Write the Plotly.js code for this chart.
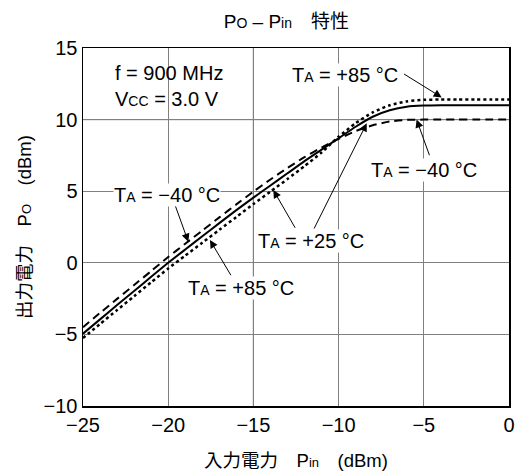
<!DOCTYPE html>
<html>
<head>
<meta charset="utf-8">
<script src="https://cdn.plot.ly/plotly-3.0.1.min.js"></script>
<style>
  html, body { margin: 0; padding: 0; background: #fff; }
  #chart { width: 516px; height: 474px; }
</style>
</head>
<body>
<div id="chart"></div>
<script>
// ---- data ----
const pin = [-25, -24, -23, -22, -21, -20, -19, -18, -17, -16, -15, -14, -13, -12, -11, -10, -9, -8, -7, -6, -5, -4, -3, -2, -1, 0];
const poTa25 = [-4.95, -3.95, -2.95, -1.97, -0.98, 0.0, 0.93, 1.85, 2.77, 3.68, 4.55, 5.4, 6.25, 7.1, 7.9, 8.7, 9.5, 10.2, 10.65, 10.9, 10.98, 11.0, 11.0, 11.0, 11.0, 11.0];
const poTaM40 = [-4.5, -3.5, -2.52, -1.55, -0.58, 0.4, 1.33, 2.25, 3.17, 4.08, 4.97, 5.82, 6.62, 7.38, 8.05, 8.65, 9.2, 9.6, 9.87, 9.98, 10.0, 10.0, 10.0, 10.0, 10.0, 10.0];
const poTa85 = [-5.25, -4.27, -3.3, -2.33, -1.36, -0.4, 0.5, 1.4, 2.3, 3.2, 4.1, 4.97, 5.85, 6.75, 7.7, 8.8, 9.75, 10.5, 11.0, 11.27, 11.38, 11.4, 11.4, 11.4, 11.4, 11.4];
const xTicks = [-25, -20, -15, -10, -5, 0];
const yTicks = [-10, -5, 0, 5, 10, 15];
const darkGridX = [-15];
const darkGridY = [10];

const SUB = s => '<span style="font-size:14px">' + s + '</span>';
const SUBT = s => '<span style="font-size:13px">' + s + '</span>';
const labelM40 = 'T' + SUB('A') + ' = \u221240 \u00B0C';
const label25 = 'T' + SUB('A') + ' = +25 \u00B0C';
const label85 = 'T' + SUB('A') + ' = +85 \u00B0C';
const condText = 'f = 900 MHz<br>V' + SUB('CC') + ' = 3.0 V';
const titleText = 'P' + SUB('O') + ' \u2013 P' + SUB('in') + '\u3000\u7279\u6027';
const xTitle = '\u5165\u529B\u96FB\u529B\u3000P' + SUBT('in') + '\u3000(dBm)';
const yTitle = '\u51FA\u529B\u96FB\u529B\u3000P' + SUBT('O') + '\u3000(dBm)';

const FONT = 'Liberation Sans, Arial, Noto Sans CJK JP, sans-serif';
const FS = 20;
const FT = 18.5;

const traces = [
  { x: pin, y: poTaM40, mode: 'lines', line: { color: '#000', width: 2, dash: '8px,5px', shape: 'spline', smoothing: 0.6 }, name: '-40' },
  { x: pin, y: poTa85, mode: 'lines', line: { color: '#000', width: 2.5, dash: 'dot', shape: 'spline', smoothing: 0.6 }, name: '+85' },
  { x: pin, y: poTa25, mode: 'lines', line: { color: '#000', width: 2, shape: 'spline', smoothing: 0.6 }, name: '+25' }
];

const shapes = [];
darkGridX.forEach(v => shapes.push({ type: 'line', xref: 'x', yref: 'paper', x0: v, x1: v, y0: 0, y1: 1, line: { color: '#000', width: 1 }, layer: 'below' }));
darkGridY.forEach(v => shapes.push({ type: 'line', xref: 'paper', yref: 'y', x0: 0, x1: 1, y0: v, y1: v, line: { color: '#000', width: 1 }, layer: 'below' }));

function lbl(text, x, y, xanchor) {
  return { text: text, x: x, y: y, xref: 'x', yref: 'y', showarrow: false, xanchor: xanchor || 'center', yanchor: 'middle',
           bgcolor: '#fff', borderpad: 0, font: { family: FONT, size: FS, color: '#000' } };
}
function arr(x0, y0, x1, y1) {
  return { text: '', x: x1, y: y1, ax: x0, ay: y0, xref: 'x', yref: 'y', axref: 'x', ayref: 'y',
           showarrow: true, arrowhead: 2, arrowsize: 1.6, arrowwidth: 1, arrowcolor: '#000', standoff: 0, startstandoff: 0 };
}

const annotations = [
  { text: condText, x: -23.26, y: 12.38, xref: 'x', yref: 'y', showarrow: false, xanchor: 'left', yanchor: 'middle', align: 'left',
    font: { family: FONT, size: FS, color: '#000' } },
  lbl(label85, -9.65, 13.11),
  lbl(labelM40, -4.99, 6.48),
  lbl(label25, -11.62, 1.52),
  lbl(labelM40, -20.09, 4.73),
  lbl(label85, -15.74, -1.78),
  arr(-6.25, 13.25, -3.95, 11.55),
  arr(-4.64, 7.41, -5.42, 10.0),
  arr(-12.5, 2.34, -13.83, 5.08),
  arr(-11.48, 2.29, -8.35, 9.74),
  arr(-19.6, 4.04, -18.82, 1.47),
  arr(-16.27, -0.97, -17.55, 1.59)
];

const layout = {
  width: 516, height: 474,
  margin: { l: 83, r: 7, t: 48, b: 68 },
  paper_bgcolor: '#fff', plot_bgcolor: '#fff',
  showlegend: false,
  font: { family: FONT, size: FS, color: '#000' },
  title: { text: titleText, x: 0.555, xanchor: 'center', y: 0.956, yanchor: 'middle', font: { family: FONT, size: 19, color: '#000' } },
  xaxis: {
    range: [-25, 0], tickvals: xTicks, ticks: '', showgrid: true, gridcolor: '#808080', gridwidth: 1,
    zeroline: false, showline: true, mirror: true, linecolor: '#000', linewidth: 1.5,
    tickfont: { family: FONT, size: FS, color: '#000' },
    title: { text: xTitle, standoff: 19, font: { family: FONT, size: FT, color: '#000' } }
  },
  yaxis: {
    range: [-10, 15], tickvals: yTicks, ticks: '', showgrid: true, gridcolor: '#808080', gridwidth: 1,
    zeroline: false, showline: true, mirror: true, linecolor: '#000', linewidth: 1.5,
    tickfont: { family: FONT, size: FS, color: '#000' },
    title: { text: yTitle, standoff: 7, font: { family: FONT, size: FT, color: '#000' } }
  },
  shapes: shapes,
  annotations: annotations
};

Plotly.newPlot('chart', traces, layout, { displayModeBar: false, staticPlot: true });
</script>
</body>
</html>
